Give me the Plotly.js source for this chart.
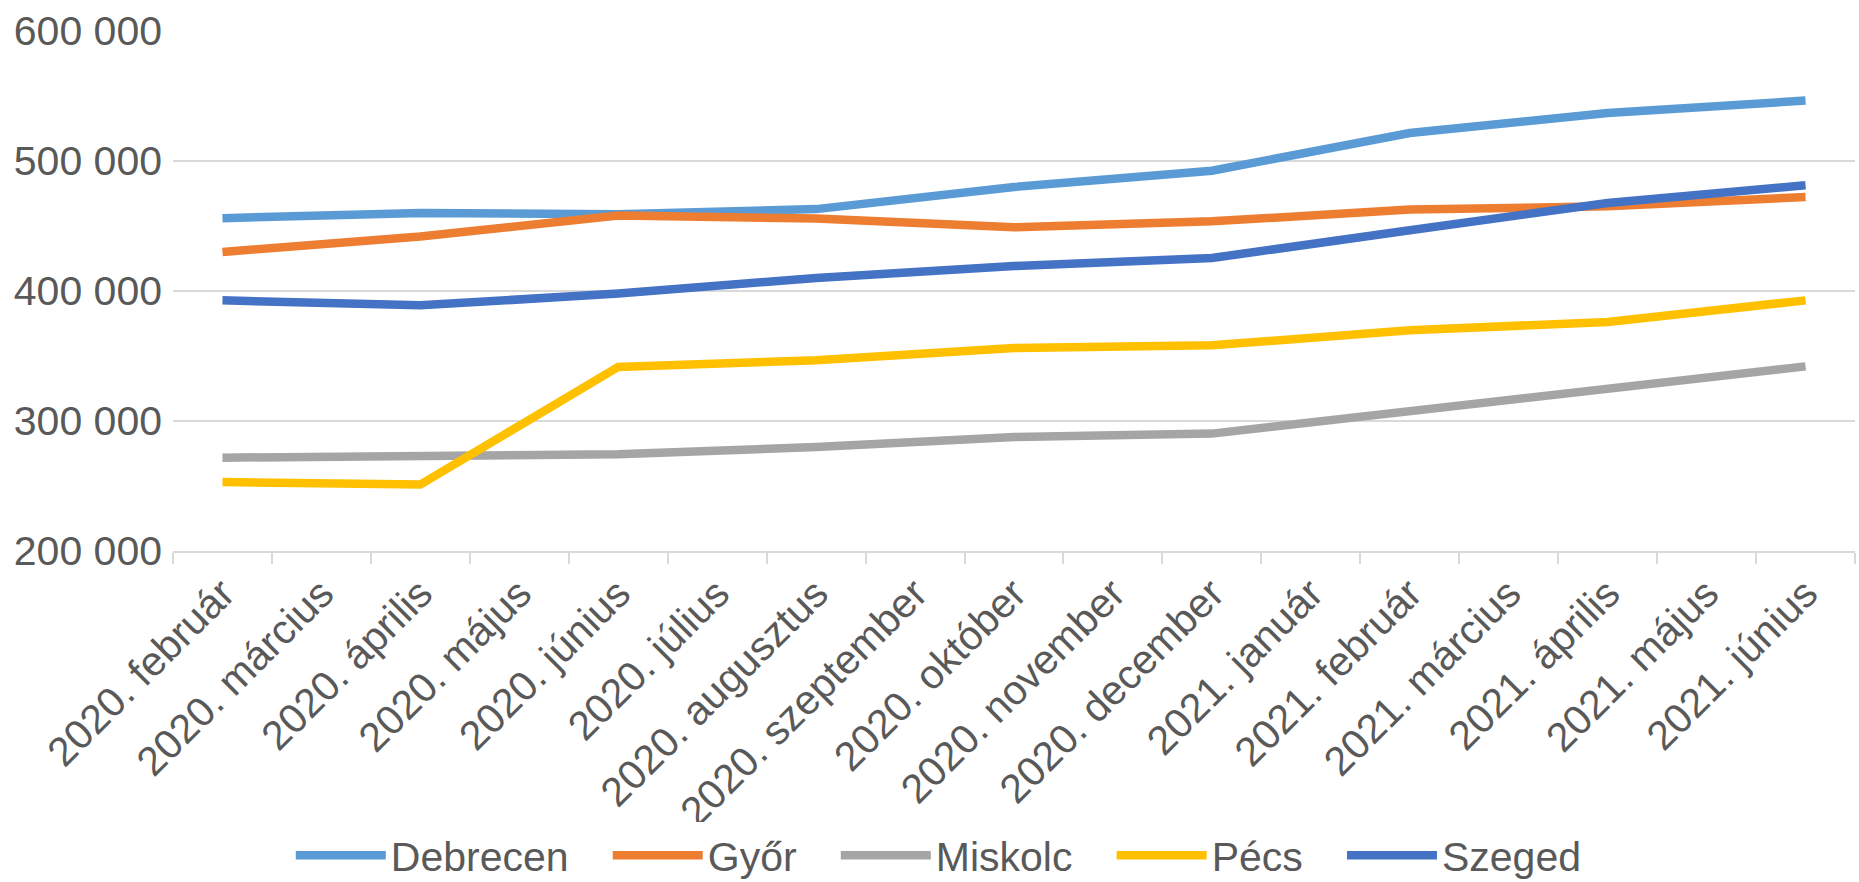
<!DOCTYPE html>
<html>
<head>
<meta charset="utf-8">
<script src="https://cdn.plot.ly/plotly-3.0.1.min.js"></script>
<style>
html,body{margin:0;padding:0;background:#fff;}
#chart{width:1859px;height:882px;}
</style>
</head>
<body>
<div id="chart"></div>
<script>
const months = [
  "2020. február","2020. március","2020. április","2020. május","2020. június",
  "2020. július","2020. augusztus","2020. szeptember","2020. október","2020. november",
  "2020. december","2021. január","2021. február","2021. március","2021. április",
  "2021. május","2021. június"
];
const debrecen = [456000,null,460000,null,459000,null,463000,null,480000,null,492500,null,521500,null,537000,null,546500];
const gyor     = [430000,null,442000,null,458000,null,455800,null,449000,null,453600,null,462600,null,465200,null,472300];
const miskolc  = [271800,null,272300,null,274400,null,280000,null,287700,null,290300,null,307600,null,323600,null,342000];
const pecs     = [253100,null,251100,null,341600,null,346700,null,356200,null,358200,null,369800,null,376200,null,392800];
const szeged   = [392800,null,389000,null,398000,null,410000,null,419200,null,425400,null,446700,null,467700,null,481300];

const seriesNames = ["Debrecen","Győr","Miskolc","Pécs","Szeged"];
const seriesData = [debrecen, gyor, miskolc, pecs, szeged];
const colors = ["#5B9BD5","#ED7D31","#A5A5A5","#FFC000","#4472C4"];

// legend spacing: non-breaking spaces after all but the last entry
const pad = "\u00a0\u00a0\u00a0";

const traces = seriesNames.map((n,i)=>({
  type:"scatter", mode:"lines",
  name: i < seriesNames.length-1 ? n + pad : n,
  x:months, y:seriesData[i],
  connectgaps:true,
  line:{color:colors[i], width:8.5}
}));

const font = {family:"Liberation Sans, Arial, sans-serif", color:"#595959", size:41};

const layout = {
  width:1859, height:882,
  margin:{l:173, r:4, t:31, b:331},
  paper_bgcolor:"#fff", plot_bgcolor:"#fff",
  separators:", ",
  font:font,
  showlegend:true,
  xaxis:{
    type:"category", tickangle:-45, tickson:"boundaries",
    range:[-0.5, 16.5],
    ticks:"outside", ticklen:11, tickcolor:"#D9D9D9", tickwidth:2,
    showline:true, linecolor:"#D9D9D9", linewidth:2,
    showgrid:false, tickfont:font, automargin:false
  },
  yaxis:{
    range:[200000,600000], dtick:100000, tickformat:",d",
    showgrid:true, gridcolor:"#D9D9D9", gridwidth:2,
    zeroline:false, showline:false, ticks:"", tickfont:font,
    ticklabelstandoff:10, automargin:false
  },
  legend:{
    orientation:"h", xref:"container", yref:"container",
    x:0.505, xanchor:"center", y:0.03, yanchor:"middle",
    font:font, itemwidth:90, traceorder:"normal"
  }
};

Plotly.newPlot("chart", traces, layout, {displayModeBar:false, staticPlot:true});
</script>
</body>
</html>
